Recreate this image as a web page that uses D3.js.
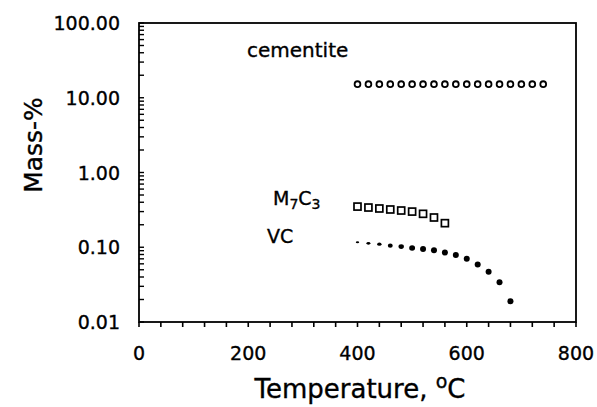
<!DOCTYPE html>
<html>
<head>
<meta charset="utf-8">
<script src="https://cdn.jsdelivr.net/npm/d3@7"></script>
<style>
  html, body { margin: 0; padding: 0; background: #fff; }
  text { font-family: "DejaVu Sans", Verdana, sans-serif; fill: #000; stroke: #000; stroke-width: 0.35px; }
</style>
</head>
<body>
<svg id="chart" width="597" height="407"></svg>
<script>
// ---- data ----
const cementiteTemp = [400,420,440,460,480,500,520,540,560,580,600,620,640,660,680,700,720,740];
const cementiteMass = [15.2,15.2,15.2,15.2,15.2,15.2,15.2,15.2,15.2,15.2,15.2,15.2,15.2,15.2,15.2,15.2,15.2,15.2];
const m7c3Temp = [400,420,440,460,480,500,520,540,560];
const m7c3Mass = [0.35,0.34,0.33,0.32,0.31,0.30,0.28,0.25,0.21];
const vcTemp = [400,420,440,460,480,500,520,540,560,580,600,620,640,660,680];
const vcMass = [0.117,0.113,0.110,0.105,0.102,0.098,0.095,0.091,0.085,0.079,0.070,0.059,0.047,0.034,0.019];
const xTicks = [0,200,400,600,800];
const yTicks = [0.01,0.1,1,10,100];
const yTickLabels = ["0.01","0.10","1.00","10.00","100.00"];

// ---- layout ----
const svg = d3.select("#chart");
const L = 139, R = 576, T = 23, B = 322;
const x = d3.scaleLinear().domain([0,800]).range([L,R]);
const y = d3.scaleLog().domain([0.01,100]).range([B,T]);

// frame
svg.append("rect").attr("x",L).attr("y",T).attr("width",R-L).attr("height",B-T)
  .attr("fill","none").attr("stroke","#000").attr("stroke-width",1.8);

// x axis ticks (outward)
const xMinor = d3.range(0,801,40);
svg.append("g").selectAll("line").data(xMinor).join("line")
  .attr("x1",d=>x(d)).attr("x2",d=>x(d)).attr("y1",B).attr("y2",B+5)
  .attr("stroke","#000").attr("stroke-width",1.6);
svg.append("g").selectAll("text").data(xTicks).join("text")
  .attr("x",d=>x(d)).attr("y",360).attr("text-anchor","middle")
  .attr("font-size",19).text(d=>d);

// y axis minor ticks (inward)
const yMinor = [];
for (let e=-2; e<2; e++) for (let k=1; k<10; k++) yMinor.push(k*Math.pow(10,e));
yMinor.push(100);
svg.append("g").selectAll("line").data(yMinor).join("line")
  .attr("x1",L).attr("x2",L+5).attr("y1",d=>y(d)).attr("y2",d=>y(d))
  .attr("stroke","#000").attr("stroke-width",1.4);
svg.append("g").selectAll("text").data(yTicks).join("text")
  .attr("x",120).attr("y",d=>y(d)+7).attr("text-anchor","end")
  .attr("font-size",19).text((d,i)=>yTickLabels[i]);

// axis titles
svg.append("text").attr("transform","translate(42,145) rotate(-90)")
  .attr("text-anchor","middle").attr("font-size",25).text("Mass-%");
const xt = svg.append("text").attr("x",360).attr("y",398).attr("text-anchor","middle").attr("font-size",26);
xt.append("tspan").text("Temperature, ");
xt.append("tspan").attr("dy",-10).attr("font-size",19).text("o");
xt.append("tspan").attr("dy",10).text("C");

// series labels
svg.append("text").attr("x",247).attr("y",57).attr("font-size",20).text("cementite");
const ml = svg.append("text").attr("x",273).attr("y",205).attr("font-size",19);
ml.append("tspan").text("M");
ml.append("tspan").attr("dy",4).attr("font-size",14).text("7");
ml.append("tspan").attr("dy",-4).text("C");
ml.append("tspan").attr("dy",4).attr("font-size",14).text("3");
svg.append("text").attr("x",267).attr("y",243).attr("font-size",19).text("VC");

// cementite: open circles
svg.append("g").selectAll("circle").data(cementiteTemp).join("circle")
  .attr("cx",d=>x(d)).attr("cy",(d,i)=>y(cementiteMass[i])).attr("r",2.9)
  .attr("fill","#fff").attr("stroke","#000").attr("stroke-width",1.8);

// M7C3: open squares
svg.append("g").selectAll("rect").data(m7c3Temp).join("rect")
  .attr("x",d=>x(d)-3.5).attr("y",(d,i)=>y(m7c3Mass[i])-3.5)
  .attr("width",7).attr("height",7)
  .attr("fill","#fff").attr("stroke","#000").attr("stroke-width",1.7);

// VC: filled dots (first ones appear small)
svg.append("g").selectAll("ellipse").data(vcTemp).join("ellipse")
  .attr("cx",d=>x(d)).attr("cy",(d,i)=>y(vcMass[i]))
  .attr("rx",(d,i)=>Math.min(3, 1.7 + i*0.25))
  .attr("ry",(d,i)=>Math.min(3, 1.0 + i*0.35))
  .attr("fill","#000");
</script>
</body>
</html>
